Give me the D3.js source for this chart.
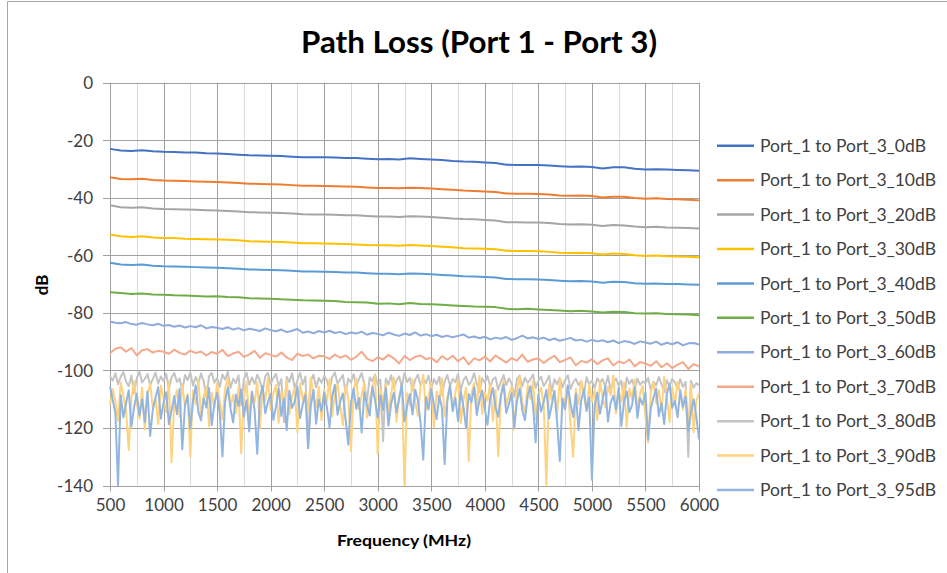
<!DOCTYPE html>
<html><head><meta charset="utf-8">
<script src="https://cdn.jsdelivr.net/npm/d3@7/dist/d3.min.js"></script>
<style>
html,body{margin:0;padding:0;background:#fff;}
text{font-family:Lato,"Open Sans",sans-serif;}
</style></head>
<body><svg id="chart" width="947" height="573"></svg>
<script>
// ---------- data ----------
const xTicks = [500,1000,1500,2000,2500,3000,3500,4000,4500,5000,5500,6000];
const yTicks = [0,-20,-40,-60,-80,-100,-120,-140];
const seriesNames = ["Port_1 to Port_3_0dB","Port_1 to Port_3_10dB","Port_1 to Port_3_20dB","Port_1 to Port_3_30dB","Port_1 to Port_3_40dB","Port_1 to Port_3_50dB","Port_1 to Port_3_60dB","Port_1 to Port_3_70dB","Port_1 to Port_3_80dB","Port_1 to Port_3_90dB","Port_1 to Port_3_95dB"];
const seriesColors = ["#4472C4","#ED7D31","#A5A5A5","#FFC000","#5B9BD5","#70AD47","#8FAADC","#F4A98A","#C4C4C4","#FFD27F","#93B6E0"];
// sample grids (MHz)
const freq100 = d3.range(500, 6001, 100);
const freq50 = d3.range(500, 6001, 50);
const freq25 = d3.range(500, 6001, 25);

const s0dB = [-23.0,-23.6,-23.7,-23.5,-23.8,-24.0,-24.1,-24.3,-24.3,-24.5,
-24.6,-24.8,-25.0,-25.2,-25.3,-25.4,-25.5,-25.7,-25.9,-25.9,
-25.9,-26.0,-26.2,-26.2,-26.4,-26.6,-26.5,-26.7,-26.3,-26.5,
-26.7,-26.9,-27.2,-27.4,-27.5,-27.7,-27.9,-28.5,-28.6,-28.6,
-28.6,-28.8,-29.0,-29.2,-29.1,-29.3,-29.8,-29.4,-29.4,-29.9,
-30.2,-30.1,-30.2,-30.3,-30.4,-30.6];
const s10dB = [-32.9,-33.5,-33.6,-33.4,-33.8,-34.0,-34.1,-34.2,-34.3,-34.4,
-34.5,-34.7,-34.9,-35.1,-35.2,-35.3,-35.4,-35.6,-35.8,-35.8,
-35.9,-36.0,-36.1,-36.2,-36.4,-36.6,-36.6,-36.7,-36.5,-36.6,
-36.8,-37.0,-37.2,-37.5,-37.6,-37.8,-38.0,-38.5,-38.6,-38.6,
-38.7,-38.9,-39.2,-39.3,-39.2,-39.4,-39.9,-39.6,-39.6,-40.1,
-40.3,-40.2,-40.4,-40.5,-40.7,-40.9];
const s20dB = [-42.6,-43.3,-43.5,-43.3,-43.7,-43.9,-44.0,-44.1,-44.2,-44.3,
-44.4,-44.6,-44.8,-45.0,-45.1,-45.2,-45.3,-45.5,-45.7,-45.8,
-45.8,-45.9,-46.1,-46.1,-46.3,-46.5,-46.5,-46.7,-46.4,-46.5,
-46.7,-46.9,-47.2,-47.4,-47.5,-47.7,-47.9,-48.5,-48.5,-48.6,
-48.6,-48.8,-49.1,-49.3,-49.2,-49.4,-49.8,-49.5,-49.6,-50.0,
-50.2,-50.1,-50.3,-50.4,-50.5,-50.7];
const s30dB = [-52.8,-53.4,-53.6,-53.4,-53.8,-54.0,-54.0,-54.2,-54.3,-54.4,
-54.5,-54.6,-54.8,-55.1,-55.2,-55.3,-55.4,-55.5,-55.8,-55.8,
-55.9,-56.0,-56.1,-56.2,-56.4,-56.5,-56.5,-56.7,-56.4,-56.6,
-56.8,-57.0,-57.2,-57.5,-57.6,-57.7,-57.9,-58.4,-58.5,-58.5,
-58.6,-58.8,-59.1,-59.2,-59.1,-59.3,-59.7,-59.4,-59.5,-60.0,
-60.2,-60.1,-60.3,-60.4,-60.5,-60.7];
const s40dB = [-62.6,-63.2,-63.4,-63.2,-63.6,-63.8,-63.9,-64.0,-64.1,-64.2,
-64.3,-64.5,-64.7,-64.9,-65.0,-65.1,-65.2,-65.4,-65.6,-65.6,
-65.7,-65.8,-66.0,-66.0,-66.2,-66.4,-66.4,-66.6,-66.3,-66.4,
-66.6,-66.8,-67.0,-67.3,-67.4,-67.5,-67.7,-68.2,-68.3,-68.3,
-68.4,-68.6,-68.8,-69.0,-68.9,-69.1,-69.5,-69.2,-69.3,-69.7,
-69.9,-69.8,-70.0,-70.0,-70.1,-70.2];
const s50dB = [-72.8,-73.1,-73.4,-73.3,-73.6,-73.7,-73.9,-74.0,-74.1,-74.3,
-74.2,-74.5,-74.6,-74.9,-75.0,-75.1,-75.3,-75.4,-75.6,-75.7,
-75.8,-75.9,-76.2,-76.3,-76.4,-76.8,-76.7,-77.0,-76.6,-76.9,
-77.0,-77.2,-77.4,-77.6,-77.8,-77.9,-78.0,-78.6,-78.7,-78.6,
-78.8,-79.0,-79.2,-79.4,-79.3,-79.5,-79.9,-79.6,-79.7,-80.1,
-80.2,-80.1,-80.4,-80.5,-80.6,-80.8];
const s60dB = [-83.0,-83.4,-83.6,-83.2,-83.9,-84.1,-83.5,-84.0,-84.3,-83.8,
-84.5,-84.2,-84.8,-84.4,-85.1,-84.6,-85.0,-84.3,-85.4,-84.9,
-85.2,-85.6,-85.0,-85.8,-85.3,-86.1,-85.5,-85.9,-86.3,-85.4,
-86.0,-86.4,-85.8,-86.7,-86.2,-85.6,-86.9,-86.5,-87.1,-86.3,
-86.8,-86.2,-87.0,-86.6,-87.4,-86.8,-87.2,-86.5,-87.6,-87.0,
-87.3,-87.8,-86.9,-87.5,-88.0,-87.2,-87.7,-86.8,-87.9,-87.4,
-88.1,-87.6,-88.4,-87.9,-88.5,-88.0,-87.5,-88.6,-88.2,-88.8,
-88.3,-89.2,-88.6,-89.0,-88.4,-89.4,-88.8,-87.9,-88.9,-88.5,
-89.1,-88.6,-89.5,-88.9,-89.7,-89.2,-88.7,-89.6,-89.3,-90.0,
-89.4,-89.9,-89.5,-90.2,-89.6,-90.5,-89.8,-90.1,-90.8,-89.9,
-90.3,-90.7,-90.0,-91.1,-90.4,-90.9,-90.2,-91.3,-90.6,-90.5,-91.0];
const s70dB = [-94.0,-92.5,-92.0,-93.5,-92.2,-94.8,-93.0,-92.6,-93.8,-93.2,
-93.5,-94.2,-92.8,-93.9,-94.5,-93.1,-94.0,-93.4,-94.8,-93.6,
-94.2,-92.9,-95.0,-94.1,-93.5,-95.3,-94.4,-93.2,-95.6,-94.0,
-94.6,-95.2,-93.8,-95.5,-96.4,-94.2,-95.0,-94.5,-95.8,-94.9,
-95.1,-96.0,-94.5,-95.6,-94.8,-96.3,-95.2,-93.5,-95.9,-96.8,
-95.4,-96.2,-94.6,-95.8,-97.6,-95.0,-96.4,-95.3,-94.8,-96.1,
-95.6,-97.2,-95.0,-96.3,-94.9,-96.8,-95.4,-97.9,-95.8,-96.5,
-95.2,-96.9,-94.8,-96.1,-97.3,-95.7,-96.6,-94.5,-97.0,-96.2,
-95.8,-97.4,-96.0,-94.9,-97.1,-96.4,-95.5,-98.2,-96.7,-97.3,
-96.1,-97.8,-96.5,-95.8,-98.3,-96.9,-97.5,-96.2,-98.6,-97.1,
-97.6,-98.4,-96.8,-98.9,-97.5,-99.2,-98.0,-97.1,-99.5,-97.8,-98.6];
const s80dB = [-102.0,-103.5,-101.0,-104.8,-102.2,-100.6,-103.9,-105.5,-101.8,-108.0,-102.7,-100.4,-104.2,-102.9,-101.3,-105.1,-103.0,-100.8,-104.6,-102.1,
-103.7,-101.2,-106.4,-102.5,-100.9,-104.0,-102.8,-107.2,-101.6,-103.4,-100.7,-105.3,-102.3,-104.5,-101.1,-103.8,-109.5,-102.0,-100.9,-104.3,
-102.6,-105.8,-101.4,-103.2,-100.5,-106.1,-102.9,-104.4,-101.7,-112.0,-103.1,-100.8,-105.0,-102.4,-104.7,-101.5,-103.6,-107.4,-102.0,-100.9,
-104.8,-102.7,-101.2,-105.5,-103.0,-118.0,-102.2,-104.1,-101.0,-106.3,-103.5,-100.8,-104.9,-102.1,-127.0,-103.8,-101.5,-105.9,-102.6,-104.3,
-101.9,-103.4,-106.8,-102.4,-100.7,-104.6,-103.1,-101.6,-107.9,-102.8,-104.2,-101.3,-105.3,-103.0,-100.9,-104.8,-110.5,-102.5,-103.7,-101.4,
-105.0,-103.2,-124.6,-102.8,-104.9,-101.7,-106.2,-103.5,-102.1,-105.7,-100.9,-104.0,-102.6,-107.0,-103.3,-101.5,-105.2,-102.9,-104.4,-101.8,
-106.4,-103.0,-104.8,-102.2,-108.6,-103.7,-101.6,-105.5,-102.9,-104.1,-101.3,-106.9,-103.4,-102.1,-105.0,-103.8,-101.0,-104.6,-107.6,-102.7,
-104.2,-101.9,-105.8,-103.1,-102.4,-106.7,-103.9,-101.6,-105.1,-102.8,-104.6,-109.2,-103.0,-101.8,-105.6,-102.5,-104.3,-103.2,-101.4,-106.0,
-103.6,-102.2,-105.4,-104.0,-101.9,-107.3,-103.1,-104.8,-102.6,-105.9,-103.3,-101.7,-106.5,-104.2,-102.9,-105.1,-103.7,-108.4,-102.4,-104.9,
-103.5,-106.1,-102.7,-104.4,-103.0,-105.7,-101.9,-107.0,-104.1,-102.8,-105.3,-103.6,-110.8,-102.5,-104.7,-103.2,-106.4,-102.9,-105.0,-103.8,
-104.5,-102.6,-106.8,-103.9,-105.2,-102.3,-104.8,-107.5,-103.4,-105.6,-102.9,-104.2,-106.3,-103.1,-105.7,-104.0,-130.0,-103.6,-106.0,-104.4,
-105.2];
const s90dB = [-112.0,-106.5,-110.8,-117.5,-104.2,-108.9,-114.0,-127.7,-109.5,-103.8,-111.6,-116.8,-106.0,-120.5,-108.4,-104.6,-113.2,-110.0,-118.6,-105.3,
-109.8,-114.5,-103.6,-132.0,-110.6,-106.9,-116.2,-104.9,-112.4,-108.2,-130.0,-107.0,-111.8,-103.2,-115.6,-109.1,-105.5,-119.4,-107.8,-113.0,
-104.4,-110.9,-117.0,-106.3,-102.8,-112.6,-108.5,-114.9,-105.8,-128.8,-109.7,-103.9,-116.5,-107.4,-111.2,-104.0,-120.2,-106.8,-110.4,-102.6,
-113.8,-108.0,-105.1,-118.2,-107.2,-111.5,-103.4,-115.3,-109.0,-106.1,-121.5,-104.5,-110.2,-107.6,-114.4,-102.4,-108.8,-112.8,-105.7,-117.3,
-106.6,-110.7,-103.0,-115.9,-108.3,-104.8,-112.2,-119.0,-105.4,-109.4,-128.0,-107.1,-102.9,-113.5,-108.6,-104.3,-116.4,-110.3,-106.2,-101.8,
-129.0,-106.4,-111.0,-104.7,-114.7,-108.1,-102.5,-117.8,-109.2,-105.0,-140.0,-107.9,-112.3,-103.1,-110.8,-115.8,-105.9,-101.5,-113.9,-108.7,
-104.1,-119.8,-107.3,-111.4,-102.7,-116.0,-109.6,-105.2,-113.1,-107.7,-103.3,-118.4,-110.1,-106.0,-131.5,-108.0,-104.4,-112.7,-101.9,-115.1,
-107.5,-110.5,-104.6,-117.6,-106.7,-129.8,-109.3,-103.5,-112.0,-108.4,-105.6,-120.6,-107.0,-102.1,-111.3,-114.6,-105.1,-109.9,-103.7,-116.9,
-108.9,-106.0,-111.9,-140.0,-104.8,-110.2,-107.4,-115.4,-102.8,-113.3,-109.5,-105.4,-118.8,-130.0,-106.5,-111.7,-103.6,-108.3,-114.2,-104.9,
-110.9,-106.8,-117.2,-103.4,-109.7,-112.9,-105.8,-108.6,-101.7,-115.0,-107.2,-111.1,-104.2,-119.6,-106.3,-110.0,-103.1,-113.6,-108.0,-105.3,
-116.7,-125.0,-107.7,-104.0,-111.4,-106.9,-114.1,-102.3,-109.1,-117.9,-105.7,-111.9,-103.9,-108.2,-113.7,-106.6,-120.0,-104.7,-121.5,-110.6,
-108.0];
const s95dB = [-105.5,-110.2,-114.8,-140.0,-108.6,-116.3,-111.4,-106.9,-119.5,-112.8,-108.1,-115.6,-110.0,-117.9,-107.3,-122.8,-113.5,-109.4,-105.8,-116.8,
-111.2,-107.6,-118.7,-113.9,-109.0,-115.2,-106.4,-127.4,-112.1,-108.8,-120.3,-110.6,-105.2,-114.4,-117.4,-109.7,-112.9,-106.1,-119.0,-111.5,
-107.9,-115.0,-129.9,-110.8,-105.9,-113.2,-118.1,-108.4,-112.4,-106.6,-116.0,-110.4,-121.2,-107.4,-113.7,-129.0,-109.3,-105.4,-114.9,-111.0,
-108.2,-117.2,-112.6,-106.2,-115.8,-109.8,-120.8,-107.1,-113.0,-110.9,-105.6,-116.6,-111.8,-108.5,-127.0,-112.3,-106.8,-118.5,-110.1,-114.1,
-107.7,-112.7,-119.7,-109.1,-105.0,-115.4,-110.7,-108.0,-117.0,-125.8,-111.3,-106.3,-113.4,-109.6,-121.6,-107.5,-112.0,-115.7,-105.7,-110.5,
-116.4,-108.7,-113.8,-106.0,-119.2,-111.6,-107.8,-114.6,-109.9,-104.8,-117.7,-112.2,-108.3,-115.3,-106.7,-110.3,-118.3,-131.0,-109.2,-113.6,
-106.5,-111.9,-116.9,-108.9,-113.1,-132.6,-110.7,-105.3,-114.2,-109.5,-117.6,-107.2,-112.5,-120.1,-108.2,-111.1,-105.9,-115.5,-110.2,-107.0,
-113.3,-118.9,-109.7,-106.1,-112.8,-116.1,-108.6,-104.9,-114.8,-111.7,-107.9,-119.9,-110.8,-106.4,-113.9,-117.3,-109.0,-105.5,-112.2,-125.0,
-108.4,-114.3,-110.9,-106.7,-116.7,-112.0,-107.1,-118.0,-131.5,-109.8,-113.5,-105.2,-111.5,-116.2,-108.0,-120.7,-110.4,-106.6,-114.0,-109.3,
-138.0,-112.4,-107.7,-115.1,-110.1,-105.6,-117.8,-111.2,-108.8,-113.7,-106.0,-119.3,-110.8,-107.3,-114.5,-112.1,-105.8,-116.5,-109.6,-111.9,
-107.6,-124.0,-113.2,-109.4,-106.3,-115.9,-111.4,-118.6,-108.1,-104.7,-113.0,-110.6,-116.3,-106.9,-112.6,-109.1,-121.0,-114.7,-110.0,-116.0,
-124.0];

const seriesValues = [s0dB,s10dB,s20dB,s30dB,s40dB,s50dB,s60dB,s70dB,s80dB,s90dB,s95dB];
const seriesFreqs = [freq100,freq100,freq100,freq100,freq100,freq100,freq50,freq50,freq25,freq25,freq25];

// ---------- layout ----------
const svg = d3.select("#chart");
const L = 110, R = 699, T = 82.7, B = 485.5;
const x = d3.scaleLinear().domain([500, 6000]).range([L, R]);
const y = d3.scaleLinear().domain([-140, 0]).range([B, T]);

svg.append("rect").attr("width",947).attr("height",573).attr("fill","#fff");
// outer chart border
svg.append("path").attr("d","M7.5,600V1.5H960").attr("fill","none").attr("stroke","#a6a6a6").attr("stroke-width",1);

// minor vertical gridlines (every 250 MHz)
const minor = d3.range(750, 6000, 500);
svg.append("g").selectAll("line").data(minor).join("line")
  .attr("x1",d=>Math.round(x(d))+0.5).attr("x2",d=>Math.round(x(d))+0.5)
  .attr("y1",T).attr("y2",B).attr("stroke","#d9d9d9").attr("stroke-width",1);
// major vertical gridlines
svg.append("g").selectAll("line").data(xTicks).join("line")
  .attr("x1",d=>Math.round(x(d))+0.5).attr("x2",d=>Math.round(x(d))+0.5)
  .attr("y1",T).attr("y2",B+6).attr("stroke","#a0a0a0").attr("stroke-width",1);
// horizontal gridlines
svg.append("g").selectAll("line").data(yTicks).join("line")
  .attr("x1",L-7).attr("x2",R)
  .attr("y1",d=>Math.round(y(d))+0.5).attr("y2",d=>Math.round(y(d))+0.5)
  .attr("stroke","#a0a0a0").attr("stroke-width",1);

// axis labels via d3 axes
const fmt = d => String(d);
const yAxis = d3.axisLeft(y).tickValues(yTicks).tickSize(0).tickPadding(0).tickFormat(fmt);
const gy = svg.append("g").attr("transform",`translate(${L-17},0)`).call(yAxis);
gy.select(".domain").remove();
gy.selectAll("text").attr("font-size",17).attr("fill","#404040").attr("font-family","Lato, sans-serif").attr("dy","0.35em");

const xAxis = d3.axisBottom(x).tickValues(xTicks).tickSize(0).tickPadding(0).tickFormat(fmt);
const gx = svg.append("g").attr("transform",`translate(0,${B+13})`).call(xAxis);
gx.select(".domain").remove();
gx.selectAll("text").attr("font-size",17).attr("fill","#404040").attr("font-family","Lato, sans-serif").attr("dy","0.71em");

// series lines
const line = d3.line().x(d=>x(d[0])).y(d=>y(d[1]));
const gLines = svg.append("g");
seriesValues.forEach((vals,i)=>{
  const pts = vals.map((v,j)=>[seriesFreqs[i][j], v]);
  gLines.append("path").attr("d", line(pts)).attr("fill","none")
    .attr("stroke", seriesColors[i]).attr("stroke-width", 2).attr("stroke-linejoin","round");
});

// title
svg.append("text").attr("x",479).attr("y",53).attr("text-anchor","middle")
  .attr("font-size",31).attr("font-weight","bold").attr("fill","#000")
  .attr("textLength",356).attr("lengthAdjust","spacingAndGlyphs")
  .text("Path Loss (Port 1 - Port 3)");
// axis titles
svg.append("text").attr("x",404).attr("y",546).attr("text-anchor","middle")
  .attr("font-size",16).attr("font-weight","bold").attr("fill","#000")
  .attr("textLength",134).attr("lengthAdjust","spacingAndGlyphs")
  .text("Frequency (MHz)");
svg.append("text").attr("transform","translate(48,285) rotate(-90)").attr("text-anchor","middle")
  .attr("font-size",17).attr("font-weight","bold").attr("fill","#000")
  .text("dB");

// legend
const lg = svg.append("g");
seriesNames.forEach((n,i)=>{
  const yy = 145.7 + i*34.43;
  lg.append("line").attr("x1",717).attr("x2",754).attr("y1",yy).attr("y2",yy)
    .attr("stroke",seriesColors[i]).attr("stroke-width",2.5);
  lg.append("text").attr("x",760).attr("y",yy).attr("dy","0.36em")
    .attr("font-size",17).attr("fill","#404040")
    .attr("textLength", i===0 ? 166 : 176).attr("lengthAdjust","spacingAndGlyphs")
    .text(n);
});
</script></body></html>
